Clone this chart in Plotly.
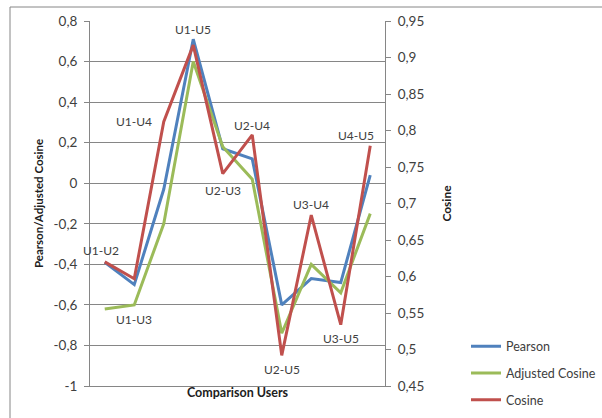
import plotly.graph_objects as go

categories = ["U1-U2", "U1-U3", "U1-U4", "U1-U5", "U2-U3",
              "U2-U4", "U2-U5", "U3-U4", "U3-U5", "U4-U5"]
pearson = [-0.39, -0.50, -0.03, 0.71, 0.17, 0.12, -0.60, -0.47, -0.49, 0.04]
adjusted_cosine = [-0.62, -0.60, -0.20, 0.60, 0.18, 0.02, -0.74, -0.40, -0.54, -0.15]
cosine = [0.620, 0.597, 0.812, 0.917, 0.741, 0.794, 0.492, 0.684, 0.534, 0.779]

left_ticks = [-1, -0.8, -0.6, -0.4, -0.2, 0, 0.2, 0.4, 0.6, 0.8]
left_labels = ["-1", "-0,8", "-0,6", "-0,4", "-0,2", "0", "0,2", "0,4", "0,6", "0,8"]
right_ticks = [0.45, 0.5, 0.55, 0.6, 0.65, 0.7, 0.75, 0.8, 0.85, 0.9, 0.95]
right_labels = ["0,45", "0,5", "0,55", "0,6", "0,65", "0,7", "0,75", "0,8", "0,85", "0,9", "0,95"]

FONT = "Lato"
TXT = "#404040"

fig = go.Figure()
fig.add_trace(go.Scatter(x=categories, y=pearson, name="Pearson", mode="lines",
                         line=dict(color="#4F81BD", width=3), legendgroup="a"))
fig.add_trace(go.Scatter(x=categories, y=adjusted_cosine, name="Adjusted Cosine", mode="lines",
                         line=dict(color="#9BBB59", width=3), legendgroup="b"))
fig.add_trace(go.Scatter(x=categories, y=cosine, name="Cosine", mode="lines", yaxis="y2",
                         line=dict(color="#C0504D", width=3), legendgroup="c"))

# label offsets (pixels) relative to the Cosine point
shifts = [(-4, 11), (0, -41), (-30, 0), (0, 16), (0, -17),
          (0, 9), (0, -14), (0, 11), (0, -14), (-14, 10)]
for cat, val, (dx, dy) in zip(categories, cosine, shifts):
    fig.add_annotation(x=cat, y=val, xref="x", yref="y2", text=cat, showarrow=False,
                       xshift=dx, yshift=dy, font=dict(family=FONT, size=12, color=TXT))

fig.update_layout(
    width=602, height=418,
    margin=dict(l=90, r=217, t=21, b=32, autoexpand=False),
    paper_bgcolor="white", plot_bgcolor="white",
    font=dict(family=FONT, size=12, color=TXT),
    showlegend=True,
    legend=dict(xref="container", yref="container", x=466/602, y=1-373/418,
                xanchor="left", yanchor="middle",
                font=dict(family=FONT, size=12.5, color=TXT),
                traceorder="grouped", tracegroupgap=7.5, itemwidth=30,
                bgcolor="rgba(0,0,0,0)"),
    xaxis=dict(type="category", showgrid=False, showline=True, linecolor="#868686",
               linewidth=1, showticklabels=False, ticks="", range=[-0.5, 9.5],
               automargin=False,
               title=dict(text="<b>Comparison Users</b>", standoff=2,
                          font=dict(family=FONT, size=12.5, color="#202020"))),
    yaxis=dict(range=[-1, 0.8], tickvals=left_ticks, ticktext=left_labels,
               showgrid=True, gridcolor="#868686", gridwidth=1, zeroline=False,
               showline=True, linecolor="#868686", ticks="outside", ticklen=5,
               ticklabelstandoff=4, automargin=False,
               tickcolor="#868686", tickfont=dict(family=FONT, size=13.5, color=TXT),
               title=dict(text="<b>Pearson/Adjusted Cosine</b>", standoff=7,
                          font=dict(family=FONT, size=11.5, color="#202020"))),
    yaxis2=dict(range=[0.45, 0.95], tickvals=right_ticks, ticktext=right_labels,
                overlaying="y", side="right", showgrid=False, zeroline=False,
                showline=True, linecolor="#868686", ticks="outside", ticklen=5,
                ticklabelstandoff=4, automargin=False,
                tickcolor="#868686", tickfont=dict(family=FONT, size=13.5, color=TXT),
                title=dict(text="<b>Cosine</b>", standoff=19,
                           font=dict(family=FONT, size=12, color="#202020"))),
)

# chart-area frame (top and left edges visible)
fig.add_shape(type="line", xref="paper", yref="paper", x0=-80/295, x1=512/295,
              y0=(386-7)/365, y1=(386-7)/365, line=dict(color="#868686", width=1))
fig.add_shape(type="line", xref="paper", yref="paper", x0=-80/295, x1=-80/295,
              y0=(386-7)/365, y1=(386-420)/365, line=dict(color="#868686", width=1))

fig.write_html("out.html")
